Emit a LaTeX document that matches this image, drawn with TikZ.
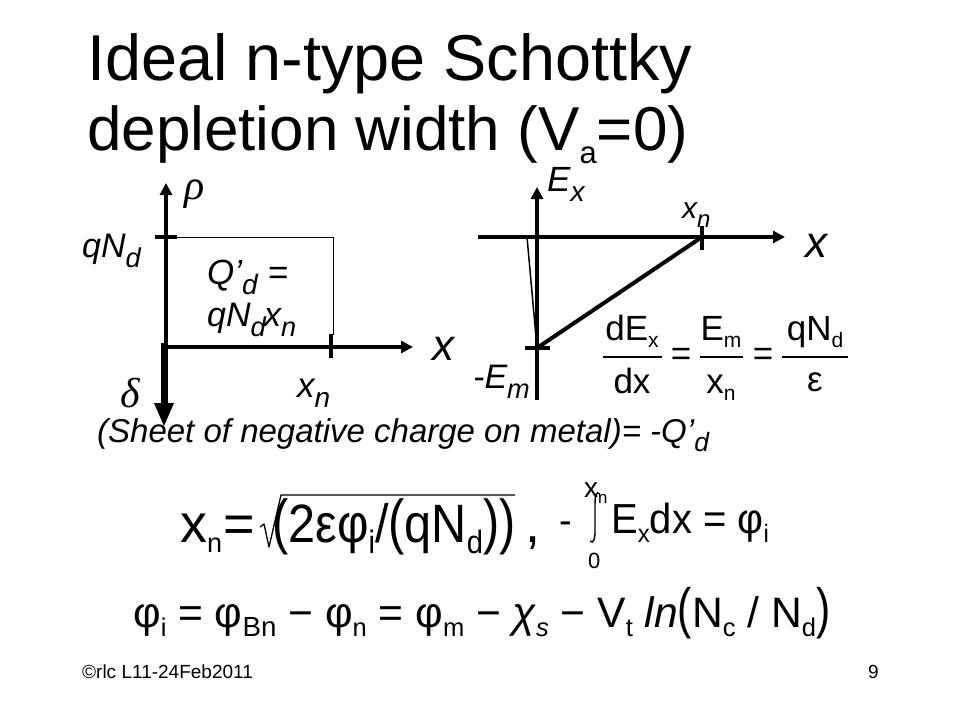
\documentclass[tikz,border=0pt]{standalone}
\usepackage{fontspec}
\usepackage{graphicx}
\setmainfont{Liberation Sans}
\newfontfamily\greekserif{Liberation Serif}
\usetikzlibrary{arrows.meta}
\newcommand\lo[1]{\raisebox{-0.22em}{\scalebox{0.6}{#1}}}
\newcommand\slo[1]{\raisebox{-0.3em}{\scalebox{0.8}{#1}}}
\newcommand\fsz[1]{\fontsize{#1}{#1}\selectfont}
\newcommand\tp[1]{\scalebox{1}[1.3]{#1}}
\newcommand\tq[1]{\scalebox{1}[1.12]{#1}}
\begin{document}
\begin{tikzpicture}[x=1pt,y=-1pt,
  lab/.style={anchor=base west,inner sep=0pt,font=\itshape\fsz{32}},
  txt/.style={anchor=base west,inner sep=0pt},
  ax/.style={line width=4pt,-{Triangle[length=12pt,width=12pt]}},
  tick/.style={line width=4pt},
  thin/.style={line width=1pt}]
\useasboundingbox (0,0) rectangle (960,720);
\fill[white] (0,0) rectangle (960,720);
% title
\node[txt] (t1) at (87,80) {\resizebox{605pt}{!}{\fsz{64}Ideal n-type Schottky}};
\node[txt] (t2) at (87,150) {\resizebox{601pt}{!}{\fsz{64}depletion width (V\raisebox{-14pt}{\fsz{32}a}=0)}};
% left graph
\coordinate (O1) at (166,347);
\coordinate (Y1) at (166,183);
\coordinate (X1) at (413,347);
\coordinate (D0) at (164,343);
\coordinate (D1) at (164,427);
\coordinate (Qa) at (155,237);
\coordinate (Qb) at (177,237);
\coordinate (Qc) at (333,237);
\coordinate (Qd) at (333,335);
\coordinate (Ta) at (331,334);
\coordinate (Tb) at (331,358);
\draw[ax] (O1) -- (Y1);
\draw[ax] (O1) -- (X1);
\draw[line width=7pt,-{Triangle[length=24pt,width=18pt]}] (D0) -- (D1);
\draw[tick] (Qa) -- (Qb);
\draw[thin] (Qb) -- (Qc) -- (Qd);
\draw[tick] (Ta) -- (Tb);
\node[txt,font=\greekserif\itshape\fsz{42}] (rho) at (184,199) {ρ};
\node[txt,font=\greekserif\itshape\fsz{42}] (delta) at (120,407) {δ};
\node[lab,font=\itshape\fsz{34}] (qnd) at (82,257) {qN\slo{d}};
\node[lab,font=\itshape\fsz{35}] (qd) at (207,284) {Q’\slo{d}\ =};
\node[lab,font=\itshape\fsz{34}] (qndxn) at (207,326) {qN\slo{d}\kern-0.05em x\slo{n}};
\node[lab,font=\itshape\fsz{44}] (xl1) at (432,360) {x};
\node[lab,font=\itshape\fsz{35}] (xn1) at (297,397) {x\slo{n}};
\node[lab,font=\itshape\fsz{33}] (sheet) at (97,442) {(Sheet of negative charge on metal)= -Q’\slo{d}};
% right graph
\coordinate (H0) at (478,237);
\coordinate (H1) at (785,237);
\coordinate (V0) at (537,400);
\coordinate (V1) at (537,187);
\coordinate (XN) at (702,237);
\coordinate (XNa) at (702,226);
\coordinate (XNb) at (702,250);
\coordinate (EM) at (537,348);
\coordinate (EMa) at (525,348);
\coordinate (EMb) at (550,348);
\coordinate (S0) at (527,237);
\draw[ax] (H0) -- (H1);
\draw[ax] (V0) -- (V1);
\draw[tick] (XNa) -- (XNb);
\draw[tick] (EMa) -- (EMb);
\draw[tick] (EM) -- (XN);
\draw[line width=1.5pt] (S0) -- (EM);
\node[lab,font=\itshape\fsz{35}] (exl) at (547,191) {E\slo{x}};
\node[lab,font=\itshape\fsz{30}] (xn2) at (682,218) {x\slo{n}};
\node[lab,font=\itshape\fsz{44}] (xl2) at (805,257) {x};
\node[lab,font=\itshape\fsz{34}] (eml) at (473,388) {-E\slo{m}};
% fraction equation
\begin{scope}[every node/.style={inner sep=0pt,font=\fsz{35}}]
\node[anchor=base] (n1) at (632,340) {dE\lo{x}};
\node[anchor=base] (d1) at (632,393) {dx};
\node (eq1) at (681,357) {=};
\node[anchor=base] (n2) at (721,340) {E\lo{m}};
\node[anchor=base] (d2) at (721,393) {x\lo{n}};
\node (eq2) at (763,357) {=};
\node[anchor=base] (n3) at (815,340) {qN\lo{d}};
\node[anchor=base] (d3) at (815,391) {ε};
\end{scope}
\coordinate (B1a) at (603,357); \coordinate (B1b) at (662,357);
\coordinate (B2a) at (700,357); \coordinate (B2b) at (743,357);
\coordinate (B3a) at (782,357); \coordinate (B3b) at (848,357);
\draw[line width=1.2pt] (B1a) -- (B1b);
\draw[line width=1.2pt] (B2a) -- (B2b);
\draw[line width=1.2pt] (B3a) -- (B3b);
% formula line 1
\node[txt,font=\fsz{54}] (xnA) at (180,542) {x\raisebox{-0.2em}{\scalebox{0.5}{n}}};
\node[anchor=base,inner sep=0,font=\fsz{54}] (eqA) at (239,542) {=};
\coordinate (R0) at (260,527);
\coordinate (R1) at (264,524);
\coordinate (R2) at (269,547);
\coordinate (R3) at (281,495);
\coordinate (R4) at (515,495);
\draw[line width=1.3pt,line join=round] (R0) -- (R1) -- (R2) -- (R3) -- (R4);
\node[txt,font=\fsz{54}] (inA) at (272,542) {\scalebox{0.9}[1]{\tq{(}2εφ\lo{i}/\tq{(}qN\lo{d}\tq{)}\tq{)}}};
\node[txt,font=\fsz{54}] (comma) at (525,542) {,};
\node[anchor=base,inner sep=0,font=\fsz{38}] (minus) at (566,533) {-};
\coordinate (I0) at (600,494);
\coordinate (I1) at (595,504);
\coordinate (I2) at (595,532);
\coordinate (I3) at (590,541);
\draw[line width=1.4pt] (I0) .. controls (596,490) and (595,497) .. (I1) -- (I2) .. controls (595,540) and (593,544) .. (I3);
\node[txt,font=\fsz{28}] (ul) at (584,497) {x\lo{n}};
\node[txt,font=\fsz{22}] (ll) at (588,568) {0};
\node[txt,font=\fsz{40}] (exB) at (611,533) {\scalebox{1}[1.05]{E\lo{x}dx = φ\lo{i}}};
% formula line 2
\node[txt,font=\fsz{42}] (l2) at (133,627) {\resizebox{697pt}{!}{φ\lo{i} = φ\raisebox{-0.22em}{\scalebox{0.65}{Bn}} − φ\lo{n} = φ\lo{m} − {\itshape χ}\lo{\itshape s} − V\lo{t} {\itshape ln}\tp{(}N\lo{c} / N\lo{d}\tp{)}}};
% footer
\node[txt,font=\fsz{19}] (foot) at (82,678) {©rlc L11-24Feb2011};
\node[txt,font=\fsz{19}] (pg) at (868,678) {9};
\end{tikzpicture}
\end{document}
